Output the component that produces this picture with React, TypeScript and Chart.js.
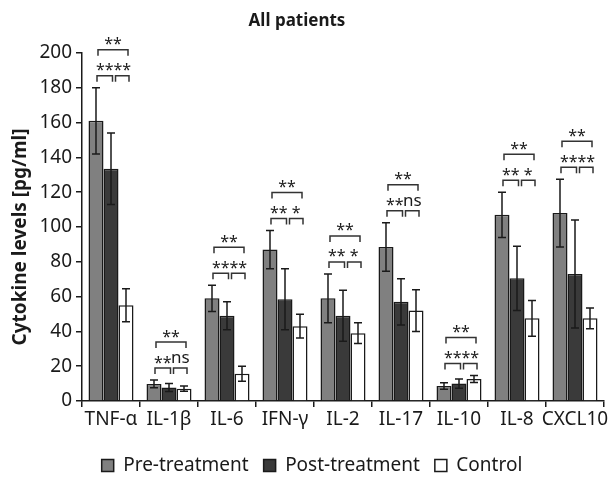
import React, { useEffect, useRef } from 'react';
import { Chart, registerables } from 'chart.js';

Chart.register(...registerables);

const TITLE = 'All patients';
const Y_TITLE = 'Cytokine levels [pg/ml]';
const categories = ['TNF-α', 'IL-1β', 'IL-6', 'IFN-γ', 'IL-2', 'IL-17', 'IL-10', 'IL-8', 'CXCL10'];
const seriesNames = ['Pre-treatment', 'Post-treatment', 'Control'];
const preMeans = [161, 9.8, 59, 87, 59, 88.5, 8.6, 107, 108];
const preSD = [19, 2.2, 7.5, 11, 14, 14, 1.9, 13, 19.5];
const postMeans = [133.5, 7.7, 49, 58.5, 49, 57, 10, 70.5, 73];
const postSD = [20.5, 2.3, 8, 17.5, 14.6, 13.3, 2.7, 18.5, 31];
const controlMeans = [55, 7.1, 15.7, 43, 39, 52, 12.6, 47.5, 47.5];
const controlSD = [9.5, 1.5, 4.3, 6.8, 6, 12, 2, 10.3, 6];
const sigPrePost = ['**', '**', '**', '**', '**', '**', '**', '**', '**'];
const sigPostControl = ['**', 'ns', '**', '*', '*', 'ns', '**', '*', '**'];
const sigPreControl = ['**', '**', '**', '**', '**', '**', '**', '**', '**'];
const Y_MIN = 0;
const Y_MAX = 200;
const Y_STEP = 20;

const FONT = "'Noto Sans', 'DejaVu Sans', sans-serif";
const DARK = '#1a1a1a';

function drawSig(ctx: CanvasRenderingContext2D, text: string, x: number, cy: number) {
  ctx.save();
  ctx.fillStyle = DARK;
  ctx.textAlign = 'center';
  ctx.textBaseline = 'alphabetic';
  if (text === 'ns') {
    ctx.font = `17px ${FONT}`;
    ctx.fillText(text, x, cy + 5);
  } else {
    ctx.font = `16px ${FONT}`;
    ctx.fillText(text, x, cy + 9.5);
  }
  ctx.restore();
}

function bracket(ctx: CanvasRenderingContext2D, x1: number, x2: number, y: number) {
  ctx.beginPath();
  ctx.moveTo(x1, y + 6);
  ctx.lineTo(x1, y);
  ctx.lineTo(x2, y);
  ctx.lineTo(x2, y + 6);
  ctx.stroke();
}

const annotPlugin = {
  id: 'annot',
  afterDatasetsDraw(chart: any) {
    const ctx: CanvasRenderingContext2D = chart.ctx;
    const ys = chart.scales.y;
    const means = [preMeans, postMeans, controlMeans];
    const sds = [preSD, postSD, controlSD];
    const metas = [0, 1, 2].map((i) => chart.getDatasetMeta(i));
    ctx.save();
    ctx.strokeStyle = DARK;
    ctx.lineWidth = 1.5;
    metas.forEach((meta: any, d: number) => {
      meta.data.forEach((bar: any, i: number) => {
        const x = bar.x;
        const yt = ys.getPixelForValue(means[d][i] + sds[d][i]);
        const yb = ys.getPixelForValue(Math.max(0, means[d][i] - sds[d][i]));
        ctx.beginPath();
        ctx.moveTo(x, yt);
        ctx.lineTo(x, yb);
        ctx.moveTo(x - 4, yt);
        ctx.lineTo(x + 4, yt);
        ctx.moveTo(x - 4, yb);
        ctx.lineTo(x + 4, yb);
        ctx.stroke();
      });
    });
    ctx.strokeStyle = '#333';
    ctx.lineWidth = 1.5;
    categories.forEach((_, i) => {
      const xs = metas.map((m: any) => m.data[i].x);
      const tops = [0, 1, 2].map((d) => ys.getPixelForValue(means[d][i] + sds[d][i]));
      const lower = Math.min(...tops) - 12;
      const upper = lower - 26;
      const l1 = xs[0] + 1, l2 = xs[1] + 1.5;
      const r1 = xs[1] + 4.5, r2 = xs[2] + 3;
      bracket(ctx, l1, l2, lower);
      bracket(ctx, r1, r2, lower);
      bracket(ctx, xs[0] + 2, xs[2] + 2, upper);
      drawSig(ctx, sigPrePost[i], (l1 + l2) / 2, lower - 10);
      drawSig(ctx, sigPostControl[i], (r1 + r2) / 2, lower - 10);
      drawSig(ctx, sigPreControl[i], (xs[0] + xs[2]) / 2 + 2, upper - 10);
    });
    ctx.restore();
  },
  afterDraw(chart: any) {
    const ctx: CanvasRenderingContext2D = chart.ctx;
    ctx.save();
    ctx.fillStyle = DARK;
    ctx.font = `bold 17px ${FONT}`;
    ctx.textAlign = 'center';
    ctx.textBaseline = 'middle';
    ctx.fillText(TITLE, 297, 21);
    ctx.translate(21, 237);
    ctx.rotate(-Math.PI / 2);
    ctx.font = `bold 19px ${FONT}`;
    ctx.fillText(Y_TITLE, 0, 0);
    ctx.restore();
  },
};

export default function App() {
  const ref = useRef<HTMLCanvasElement | null>(null);
  useEffect(() => {
    if (!ref.current) return;
    const mk = (label: string, data: number[], bg: string) => ({
      label,
      data,
      backgroundColor: bg,
      borderColor: DARK,
      borderWidth: 1.5,
      categoryPercentage: 0.776,
      barPercentage: 1.0,
    });
    const chart = new Chart(ref.current, {
      type: 'bar',
      data: {
        labels: categories,
        datasets: [
          mk(seriesNames[0], preMeans, '#808080'),
          mk(seriesNames[1], postMeans, '#3a3a3a'),
          mk(seriesNames[2], controlMeans, '#ffffff'),
        ],
      },
      options: {
        animation: false,
        responsive: true,
        maintainAspectRatio: false,
        layout: { padding: { top: 53, right: 12, left: 20, bottom: 0 } },
        plugins: {
          title: { display: false },
          tooltip: { enabled: false },
          legend: {
            display: true,
            position: 'bottom',
            maxHeight: 38,
            labels: {
              boxWidth: 12,
              boxHeight: 12,
              padding: 15,
              color: DARK,
              font: { family: FONT, size: 19 },
            },
          },
        },
        scales: {
          x: {
            afterFit: (s: any) => { s.height = 40; },
            grid: { display: true, drawOnChartArea: false, drawTicks: true, tickLength: 6, color: DARK, lineWidth: 1.5 },
            border: { display: true, color: DARK, width: 1.5 },
            ticks: { color: DARK, font: { family: FONT, size: 19 }, padding: 1, maxRotation: 0, autoSkip: false },
          },
          y: {
            min: Y_MIN,
            max: Y_MAX,
            afterFit: (s: any) => { s.width = 62; },
            grid: { display: true, drawOnChartArea: false, drawTicks: true, tickLength: 6, color: DARK, lineWidth: 1.5 },
            border: { display: true, color: DARK, width: 1.5 },
            ticks: { stepSize: Y_STEP, color: DARK, font: { family: FONT, size: 19 }, padding: 4 },
            title: { display: false },
          },
        },
      },
      plugins: [annotPlugin],
    } as any);
    return () => chart.destroy();
  }, []);
  return (
    <div style={{ position: 'fixed', left: 0, top: 0, width: 616, height: 479 }}>
      <canvas ref={ref} />
    </div>
  );
}
